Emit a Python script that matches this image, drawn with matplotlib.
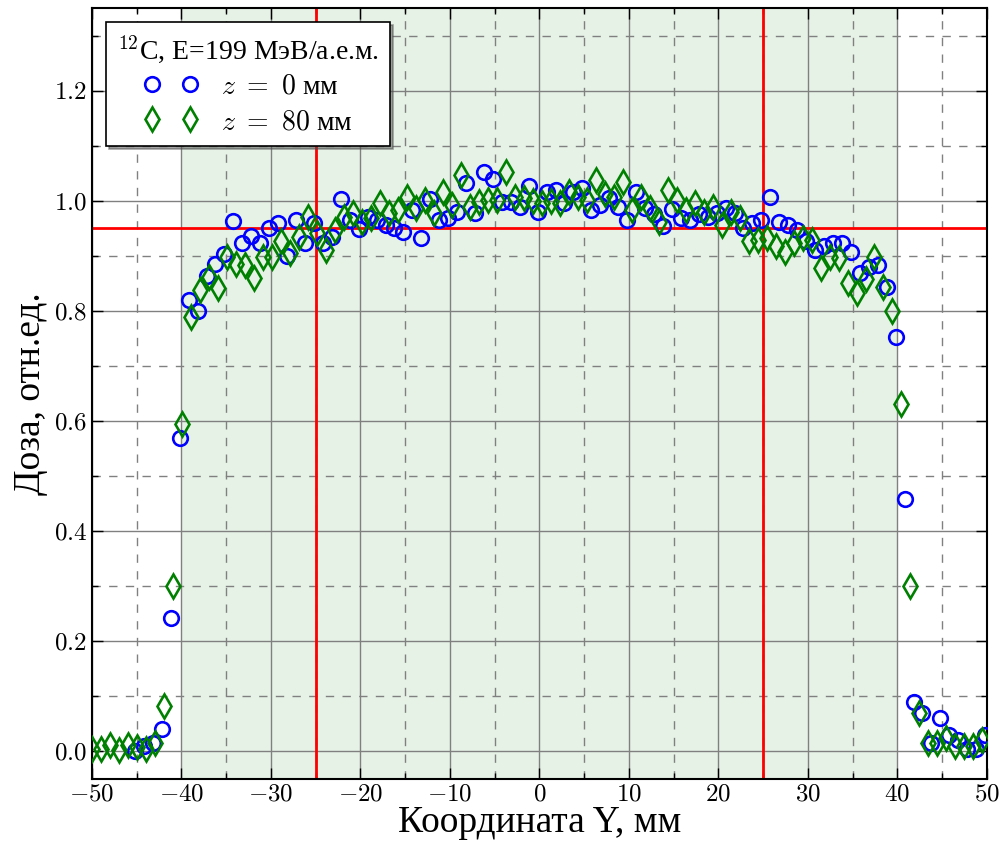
import numpy as np
import matplotlib
matplotlib.use("Agg")
import matplotlib.pyplot as plt

plt.rcParams['font.family'] = ['Liberation Serif', 'DejaVu Serif']
plt.rcParams['mathtext.fontset'] = 'cm'
plt.rcParams['axes.formatter.use_mathtext'] = True

# Circles: z = 0 mm (x from -45.2 mm step 1 mm)
x0_start, x0_step = -45.2, 1.0
dose_z0 = [0.00, 0.01, 0.015, 0.04, 0.243, 0.57, 0.82, 0.80, 0.864, 0.886,
           0.904, 0.964, 0.924, 0.936, 0.924, 0.951, 0.96, 0.90, 0.965, 0.924,
           0.96, 0.924, 0.935, 1.003, 0.965, 0.948, 0.971, 0.965, 0.956, 0.951,
           0.944, 0.984, 0.933, 1.003, 0.965, 0.969, 0.98, 1.032, 0.978, 1.053,
           1.04, 0.998, 0.998, 0.989, 1.027, 0.98, 1.015, 1.02, 0.996, 1.015,
           1.024, 0.984, 0.993, 1.005, 0.989, 0.965, 1.016, 0.987, 0.975, 0.955,
           0.985, 0.969, 0.965, 0.975, 0.971, 0.978, 0.987, 0.978, 0.951, 0.96,
           0.965, 1.007, 0.962, 0.956, 0.947, 0.926, 0.911, 0.917, 0.924, 0.924,
           0.906, 0.869, 0.88, 0.884, 0.844, 0.753, 0.458, 0.09, 0.07, 0.015,
           0.06, 0.03, 0.02, 0.005, 0.005, 0.03]

# Diamonds: z = 80 mm (x from -50 mm to 49.5 mm)
x80_start, x80_end = -50.0, 49.5
dose_z80 = [0.005, 0.005, 0.012, 0.003, 0.012, 0.008, 0.005, 0.015, 0.083, 0.30,
            0.595, 0.788, 0.838, 0.862, 0.842, 0.898, 0.886, 0.884, 0.86, 0.898,
            0.898, 0.926, 0.905, 0.935, 0.971, 0.942, 0.911, 0.947, 0.971, 0.978,
            0.962, 0.969, 0.996, 0.978, 0.984, 1.007, 0.987, 1.002, 0.978, 1.015,
            0.993, 1.047, 0.989, 0.998, 1.002, 1.002, 1.053, 1.007, 1.005, 1.0,
            0.995, 1.0, 0.996, 1.016, 1.007, 1.002, 1.038, 1.013, 1.007, 1.034,
            0.984, 1.007, 0.987, 0.962, 1.02, 1.002, 0.984, 0.996, 0.98, 0.989,
            0.956, 0.98, 0.969, 0.926, 0.929, 0.933, 0.917, 0.907, 0.924, 0.933,
            0.929, 0.878, 0.898, 0.896, 0.851, 0.833, 0.857, 0.898, 0.844, 0.799,
            0.63, 0.30, 0.07, 0.015, 0.015, 0.025, 0.01, 0.01, 0.01, 0.02]

x_z0 = x0_start + x0_step * np.arange(len(dose_z0))
x_z80 = np.linspace(x80_start, x80_end, len(dose_z80))

field_edges = (-40, 40)
red_x = (-25, 25)
red_y = 0.95

legend_title = r"$^{12}$C, E=199 МэВ/а.е.м."
label_z0 = r"$z\ =\ 0$ мм"
label_z80 = r"$z\ =\ 80$ мм"
xlabel = "Координата Y, мм"
ylabel = "Доза, отн.ед."

fig = plt.figure(figsize=(10.05, 8.48), dpi=100)
ax = fig.add_axes([0.0915, 0.0814, 0.8905, 0.9092])

ax.axvspan(*field_edges, color='green', alpha=0.1, lw=0, zorder=0)

ax.set_xlim(-50, 50)
ax.set_ylim(-0.05, 1.35)
ax.set_xticks(np.arange(-50, 51, 10))
ax.set_xticks(np.arange(-45, 50, 10), minor=True)
ax.set_yticks(np.arange(0, 1.21, 0.2))
ax.set_yticks(np.arange(0.1, 1.31, 0.2), minor=True)
ax.set_yticklabels([f"${v:.1f}$" for v in np.arange(0, 1.21, 0.2)])
ax.set_xticklabels([f"${v}$" if v >= 0 else f"$-{abs(v)}$" for v in range(-50, 51, 10)])

ax.grid(which='major', color='#808080', linestyle='-', linewidth=1.0, zorder=1)
ax.grid(which='minor', color='#808080', linestyle=(0, (6, 6)), linewidth=1.0, zorder=1)
ax.set_axisbelow(True)

ax.tick_params(which='both', direction='in', top=True, right=True, labelsize=18)
ax.tick_params(which='major', length=8, width=1)
ax.tick_params(which='minor', length=4, width=1)
for s in ax.spines.values():
    s.set_linewidth(1.5)

for xv in red_x:
    ax.axvline(xv, color='red', lw=2, zorder=2)
ax.axhline(red_y, color='red', lw=2, zorder=2)

ax.plot(x_z0, dose_z0, linestyle='none', marker='o', markersize=10.5,
        markerfacecolor='none', markeredgecolor='blue', markeredgewidth=1.9,
        label=label_z0, zorder=3)
ax.plot(x_z80, dose_z80, linestyle='none', marker='d', markersize=12,
        markerfacecolor='none', markeredgecolor='green', markeredgewidth=1.9,
        label=label_z80, zorder=3)

leg = ax.legend(loc='upper left', numpoints=2, title=legend_title, fontsize=20,
                title_fontsize=20, shadow=True, fancybox=False, framealpha=1,
                edgecolor='black', borderaxespad=0.5, handlelength=2.0,
                handletextpad=0.8, labelspacing=0.35, borderpad=0.4)
leg.get_frame().set_linewidth(1.2)

ax.set_xlabel(xlabel, fontsize=27, labelpad=0)
ax.set_ylabel(ylabel, fontsize=27, labelpad=4)

fig.savefig("out.png", dpi=100)
